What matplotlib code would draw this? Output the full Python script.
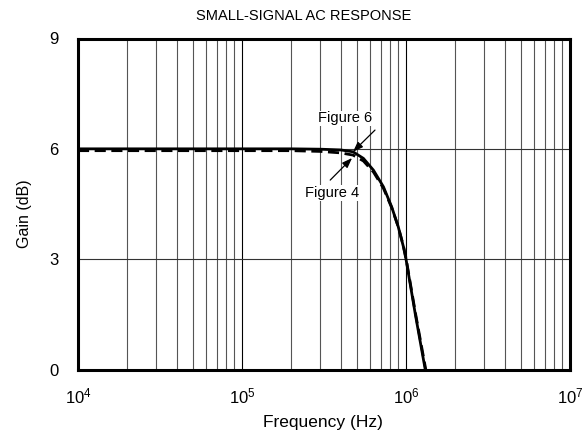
import matplotlib
matplotlib.use("Agg")
import matplotlib.pyplot as plt
from matplotlib.ticker import LogLocator, FixedLocator

plt.rcParams['font.family'] = ['Liberation Sans', 'DejaVu Sans']
plt.rcParams['mathtext.fontset'] = 'custom'
plt.rcParams['mathtext.rm'] = 'Liberation Sans'
plt.rcParams['mathtext.it'] = 'Liberation Sans'

# Data
freq_fig6 = [1e4, 3e4, 1e5, 2e5, 3e5, 4e5, 4.75e5, 5.5e5, 6.33e5, 7.28e5, 8.18e5,
             8.97e5, 9.64e5, 1.0e6, 1.14e6, 1.31e6]
gain_fig6 = [6.0, 6.0, 6.0, 6.0, 5.99, 5.97, 5.92, 5.74, 5.42, 4.97, 4.42,
             3.88, 3.34, 3.0, 1.5, 0.0]

freq_fig4 = [1e4, 3e4, 1e5, 2e5, 3e5, 4e5, 4.75e5, 5.5e5, 6.33e5, 7.28e5, 8.18e5,
             8.97e5, 9.64e5, 1.0e6, 1.14e6, 1.32e6]
gain_fig4 = [5.95, 5.95, 5.95, 5.95, 5.93, 5.89, 5.83, 5.67, 5.37, 4.93, 4.4,
             3.88, 3.36, 3.03, 1.55, 0.0]

x_limits = [1e4, 1e7]
y_ticks = [0, 3, 6, 9]

title = "SMALL-SIGNAL AC RESPONSE"
xlabel = "Frequency (Hz)"
ylabel = "Gain (dB)"

fig = plt.figure(figsize=(5.82, 4.41), dpi=100)
ax = fig.add_axes([78/582, 1 - 369.5/441, 492/582, 331/441])

ax.set_xscale('log')
ax.set_xlim(*x_limits)
ax.set_ylim(0, 9)

# grid
ax.xaxis.set_major_locator(LogLocator(base=10, numticks=10))
ax.xaxis.set_minor_locator(LogLocator(base=10, subs=range(2, 10), numticks=100))
ax.yaxis.set_major_locator(FixedLocator(y_ticks))
ax.grid(which='major', axis='x', color='black', lw=0.8)
ax.grid(which='minor', axis='x', color='#555555', lw=0.8)
ax.grid(which='major', axis='y', color='#333333', lw=0.8)
ax.tick_params(which='both', length=0)
ax.tick_params(axis='x', labelsize=12, pad=12)
ax.tick_params(axis='y', labelsize=12, pad=14)

for s in ax.spines.values():
    s.set_linewidth(2.2)
    s.set_zorder(5)

ax.plot(freq_fig6, gain_fig6, color='black', lw=2.0, solid_capstyle='butt', zorder=4)
ax.plot(freq_fig4, gain_fig4, color='black', lw=2.0, ls=(0, (4, 2)), zorder=4)

arrow = dict(arrowstyle='-|>,head_length=0.6,head_width=0.22', color='black', lw=0.9,
             shrinkA=0, shrinkB=0)
ax.annotate('', xy=(4.75e5, 5.92), xytext=(6.47e5, 6.51), arrowprops=arrow, zorder=6)
ax.annotate('', xy=(4.69e5, 5.75), xytext=(3.45e5, 5.15), arrowprops=arrow, zorder=6)
ax.text(4.25e5, 6.83, "Figure 6", ha='center', va='center', fontsize=10.5,
        bbox=dict(facecolor='white', edgecolor='none', pad=0.5), zorder=6)
ax.text(3.54e5, 4.80, "Figure 4", ha='center', va='center', fontsize=10.5,
        bbox=dict(facecolor='white', edgecolor='none', pad=0.5), zorder=6)

fig.text(304/582, 1 - 16/441, title, ha='center', va='center', fontsize=10.5)
fig.text(323/582, 1 - 423/441, xlabel, ha='center', va='center', fontsize=12.5)
fig.text(25/582, 1 - 214/441, ylabel, ha='center', va='center', fontsize=11.5,
         rotation=90)

fig.savefig("out.png", dpi=100)
